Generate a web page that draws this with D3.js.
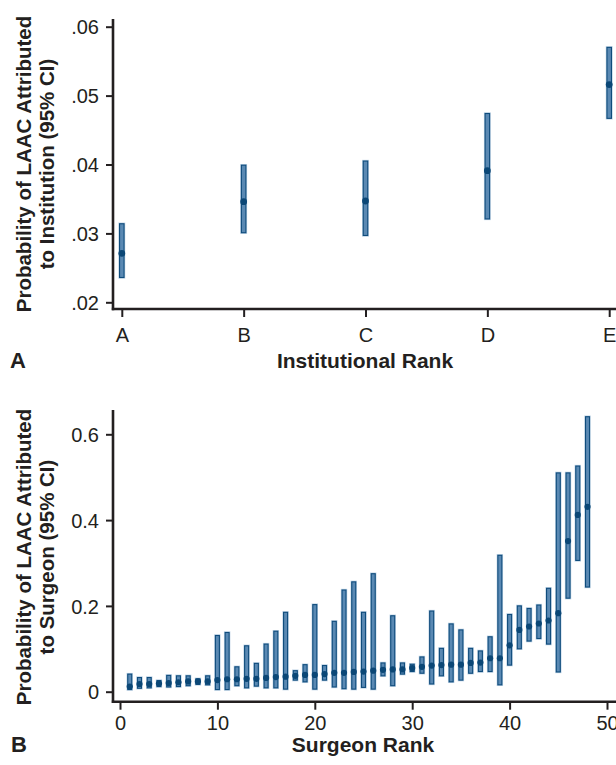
<!DOCTYPE html>
<html><head><meta charset="utf-8">
<script src="https://cdn.jsdelivr.net/npm/d3@7"></script>
<style>
html,body{margin:0;padding:0;background:#fff;}
svg{display:block;font-family:"Liberation Sans",Arial,Helvetica,sans-serif;}
</style></head>
<body><svg id="chart" width="616" height="765"></svg>
<script>
// Panel A: institutions
const instCategories = ["A","B","C","D","E"];
const instMean  = [0.0271, 0.0346, 0.0347, 0.0391, 0.0516];
const instLower = [0.0236, 0.0301, 0.0297, 0.0321, 0.0467];
const instUpper = [0.0314, 0.0399, 0.0405, 0.0474, 0.0570];
const instYTicks = [0.02, 0.03, 0.04, 0.05, 0.06];
const instYTickLabels = [".02", ".03", ".04", ".05", ".06"];

// Panel B: surgeons (rank 1..48)
const surgRank = d3.range(1, 49);
const surgMean = [0.012,0.018,0.018,0.019,0.020,0.022,0.024,0.024,0.024,0.027,
                  0.029,0.029,0.030,0.030,0.032,0.034,0.035,0.037,0.039,0.039,
                  0.041,0.044,0.044,0.046,0.047,0.049,0.051,0.052,0.052,0.055,
                  0.058,0.061,0.062,0.063,0.063,0.067,0.068,0.078,0.078,0.108,
                  0.144,0.152,0.159,0.166,0.183,0.351,0.412,0.431];
const surgLower = [0.005,0.008,0.009,0.012,0.011,0.012,0.014,0.017,0.016,0.005,
                   0.005,0.014,0.009,0.013,0.009,0.009,0.006,0.027,0.023,0.006,
                   0.027,0.011,0.007,0.006,0.010,0.006,0.037,0.014,0.041,0.047,
                   0.043,0.018,0.037,0.023,0.027,0.043,0.047,0.047,0.016,0.062,
                   0.100,0.118,0.124,0.111,0.046,0.218,0.306,0.244];
const surgUpper = [0.041,0.033,0.033,0.026,0.038,0.037,0.037,0.030,0.037,0.131,
                   0.138,0.058,0.107,0.066,0.111,0.141,0.185,0.049,0.063,0.203,
                   0.061,0.164,0.237,0.256,0.185,0.275,0.067,0.177,0.067,0.064,
                   0.081,0.188,0.101,0.158,0.144,0.101,0.095,0.128,0.318,0.180,
                   0.200,0.194,0.202,0.241,0.510,0.510,0.526,0.641];
const surgXTicks = [0, 10, 20, 30, 40, 50];
const surgYTicks = [0, 0.2, 0.4, 0.6];
const surgYTickLabels = ["0", "0.2", "0.4", "0.6"];

const svg = d3.select("#chart");
const AXIS = "#231f20";
const BAR_FILL = "#5a89b3";
const BAR_STROKE = "#0f4c7c";
const DOT = "#0b4776";

function styleAxis(g){
  g.select(".domain").remove();
  g.selectAll(".tick line").attr("stroke", AXIS).attr("stroke-width", 2);
  g.selectAll(".tick text").attr("fill", AXIS).attr("font-size", 20)
    .attr("font-family", '"Liberation Sans",Arial,sans-serif');
}

function drawPanel(o){
  svg.append("line").attr("x1", o.axisX).attr("x2", o.axisX)
    .attr("y1", o.axisTop).attr("y2", o.baseY + 1.2)
    .attr("stroke", AXIS).attr("stroke-width", 2.6);
  svg.append("line").attr("x1", o.axisX - 1.2).attr("x2", 620)
    .attr("y1", o.baseY).attr("y2", o.baseY)
    .attr("stroke", AXIS).attr("stroke-width", 2.6);

  const yAxis = svg.append("g").attr("transform", `translate(${o.axisX},0)`)
    .call(d3.axisLeft(o.y).tickValues(o.yTicks).tickFormat((d,i)=>o.yLabels[i]).tickSize(7).tickPadding(7));
  styleAxis(yAxis);
  yAxis.selectAll(".tick text").attr("dy", "0.36em");

  const xAxis = svg.append("g").attr("transform", `translate(0,${o.baseY})`)
    .call(d3.axisBottom(o.x).tickValues(o.xTicks).tickFormat(o.xFormat).tickSize(8));
  styleAxis(xAxis);
  xAxis.selectAll(".tick text").attr("dy", null).attr("y", o.xLabelY);

  const g = svg.append("g");
  const idx = d3.range(o.xs.length);
  g.selectAll("rect.halo").data(idx).join("rect")
    .attr("x", i => o.x(o.xs[i]) - o.bw/2)
    .attr("y", i => o.y(o.hi[i]))
    .attr("width", o.bw)
    .attr("height", i => o.y(o.lo[i]) - o.y(o.hi[i]))
    .attr("fill", "none").attr("stroke", "#bcd1e4").attr("stroke-width", 2.4);
  g.selectAll("rect.ci").data(idx).join("rect")
    .attr("x", i => o.x(o.xs[i]) - o.bw/2)
    .attr("y", i => o.y(o.hi[i]))
    .attr("width", o.bw)
    .attr("height", i => o.y(o.lo[i]) - o.y(o.hi[i]))
    .attr("fill", BAR_FILL).attr("stroke", BAR_STROKE).attr("stroke-width", 1.1);
  g.selectAll("circle").data(idx).join("circle")
    .attr("cx", i => o.x(o.xs[i]))
    .attr("cy", i => o.y(o.mean[i]))
    .attr("r", o.r).attr("fill", DOT);

  svg.append("text").attr("x", o.titleX).attr("y", o.titleY)
    .attr("text-anchor", "middle").attr("font-weight", "bold").attr("font-size", 21)
    .attr("fill", AXIS).text(o.xTitle);
  o.yTitle.forEach((t, k) => {
    svg.append("text")
      .attr("transform", `translate(${o.yTitleX[k]},${o.yTitleY}) rotate(-90)`)
      .attr("text-anchor", "middle").attr("font-weight", "bold").attr("font-size", 20.5)
      .attr("fill", AXIS).text(t);
  });
  svg.append("text").attr("x", o.labelX).attr("y", o.titleY)
    .attr("font-weight", "bold").attr("font-size", 22).attr("fill", AXIS).text(o.label);
}

const xA = d3.scaleLinear().domain([1, 5]).range([121.8, 609.2]);
const yA = d3.scaleLinear().domain([0.02, 0.06]).range([302.3, 26.7]);
drawPanel({
  x: xA, y: yA, axisX: 113, axisTop: 19, baseY: 309,
  yTicks: instYTicks, yLabels: instYTickLabels,
  xTicks: d3.range(1, 6), xFormat: (d) => instCategories[d-1], xLabelY: 33,
  xs: d3.range(1, 6), mean: instMean, lo: instLower, hi: instUpper, bw: 4.5, r: 3.4,
  xTitle: "Institutional Rank", titleX: 365, titleY: 368,
  yTitle: ["Probability of LAAC Attributed", "to Institution (95% CI)"],
  yTitleX: [31, 53.5], yTitleY: 164, label: "A", labelX: 10
});

const xB = d3.scaleLinear().domain([0, 50]).range([120, 607]);
const yB = d3.scaleLinear().domain([0, 0.6]).range([691.7, 434.3]);
drawPanel({
  x: xB, y: yB, axisX: 113, axisTop: 410, baseY: 701.7,
  yTicks: surgYTicks, yLabels: surgYTickLabels,
  xTicks: surgXTicks, xFormat: d3.format("d"), xLabelY: 28,
  xs: surgRank, mean: surgMean, lo: surgLower, hi: surgUpper, bw: 4, r: 3.1,
  xTitle: "Surgeon Rank", titleX: 363, titleY: 752,
  yTitle: ["Probability of LAAC Attributed", "to Surgeon (95% CI)"],
  yTitleX: [31, 53.5], yTitleY: 557, label: "B", labelX: 11
});
</script></body></html>
